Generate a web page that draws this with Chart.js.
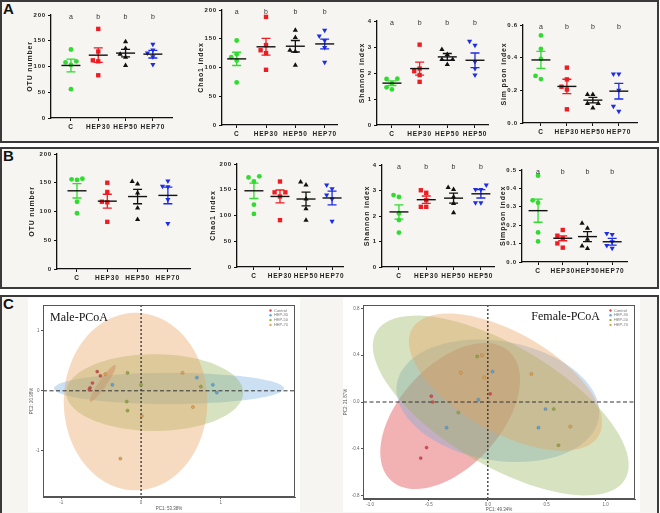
<!DOCTYPE html>
<html>
<head>
<meta charset="utf-8">
<script src="https://cdn.jsdelivr.net/npm/chart.js@4.4.1/dist/chart.umd.min.js"></script>
<style>
  html, body { margin: 0; padding: 0; background: #fff; }
  body { width: 660px; height: 513px; position: relative; overflow: hidden; font-family: 'Liberation Sans', Arial, sans-serif; }
  .panel { position: absolute; left: 0; width: 659px; background: #f6f5f1; border: 2px solid #3a3a3a; box-sizing: border-box; }
  .tag { position: absolute; left: 3px; font: bold 15px 'Liberation Sans', Arial, sans-serif; color: #111; }
  .white { position: absolute; background: #fff; }
</style>
</head>
<body>
<div class="panel" style="top:0;height:143px"></div>
<div class="panel" style="top:147px;height:142px"></div>
<div class="panel" style="top:295px;height:222px"></div>
<div class="tag" style="top:0px">A</div>
<div class="tag" style="top:147px">B</div>
<div class="tag" style="top:295px">C</div>
<div class="white" style="left:28px;top:298px;width:272px;height:214px"></div>
<div class="white" style="left:343px;top:298px;width:297px;height:214px"></div>

<script>
/* ─── data ──────────────────────────────── */

const groups        = ['C', 'HEP30', 'HEP50', 'HEP70'];
const shannonGroups = ['C', 'HEP30', 'HEP50', 'HEP50'];
const lettersAbbb   = ['a', 'b', 'b', 'b'];

/* panel A */
const otuA      = [[133, 108, 110, 103, 56], [173, 129, 112, 110, 83], [148, 135, 124, 118, 102], [132, 143, 126, 119, 104]];
const otuAMean  = [102, 122, 126, 124];
const otuASem   = [12.5, 14, 7.3, 7.5];

const chaoA     = [[147, 118, 123, 112, 74], [188, 139, 130, 125, 96], [165, 152, 130, 128, 104], [155, 165, 147, 135, 109]];
const chaoAMean = [115, 136, 137, 141];
const chaoASem  = [11.5, 14.5, 10, 8.5];

const shannonA     = [[1.78, 1.77, 1.60, 1.37, 1.45], [3.09, 2.17, 2.07, 1.92, 1.66], [2.90, 2.71, 2.52, 2.52, 2.33], [3.22, 3.07, 2.43, 2.17, 1.92]];
const shannonAMean = [1.61, 2.17, 2.62, 2.49];
const shannonASem  = [0.09, 0.25, 0.13, 0.28];

const simpsonA     = [[0.536, 0.454, 0.392, 0.288, 0.269], [0.339, 0.267, 0.205, 0.222, 0.084], [0.175, 0.175, 0.119, 0.119, 0.092], [0.30, 0.30, 0.20, 0.103, 0.072]];
const simpsonAMean = [0.386, 0.224, 0.14, 0.195];
const simpsonASem  = [0.052, 0.044, 0.017, 0.048];

/* panel B */
const otuB      = [[157, 155, 156, 117, 97], [150, 134, 117, 116, 82], [152, 148, 132, 106, 86], [153, 144, 143, 121, 79]];
const otuBMean  = [136, 118, 126, 128];
const otuBSem   = [12.5, 12, 12.5, 14.5];

const chaoB     = [[176, 174, 166, 121, 103], [166, 145, 145, 137, 91], [165, 159, 132, 113, 91], [159, 152, 140, 132, 89]];
const chaoBMean = [148, 137, 132, 134];
const chaoBSem  = [15, 12.5, 13.5, 13.5];

const shannonB     = [[2.75, 2.82, 2.10, 1.84, 1.35], [3.01, 2.91, 2.62, 2.36, 2.36], [3.12, 3.04, 2.75, 2.49, 2.13], [3.22, 3.04, 3.04, 2.52, 2.52]];
const shannonBMean = [2.16, 2.64, 2.70, 2.87];
const shannonBSem  = [0.28, 0.145, 0.195, 0.165];

const simpsonB     = [[0.469, 0.335, 0.322, 0.161, 0.112], [0.174, 0.143, 0.129, 0.101, 0.078], [0.21, 0.183, 0.123, 0.087, 0.074], [0.155, 0.15, 0.11, 0.09, 0.075]];
const simpsonBMean = [0.279, 0.129, 0.138, 0.11];
const simpsonBSem  = [0.063, 0.0135, 0.0275, 0.0185];

/* panel C : PCoA coordinates */
const pcoaLabels = ['Control', 'HEP-30', 'HEP-50', 'HEP-70'];

const maleControl = [[-0.55, 0.32], [-0.51, 0.25], [-0.61, 0.13], [-0.64, 0.05], [-0.65, 0.02]];
const maleHep30   = [[-0.36, 0.10], [0.70, 0.22], [0.90, 0.10], [0.95, -0.03]];
const maleHep50   = [[-0.17, 0.30], [0.0, 0.10], [0.75, 0.07], [-0.18, -0.18], [-0.17, -0.33]];
const maleHep70   = [[-0.45, 0.28], [0.52, 0.30], [0.01, -0.42], [-0.26, -1.13], [0.65, -0.27]];
/* [centre x, centre y, semi-axis a, semi-axis b, angle deg] */
const maleEllipses = [[-0.48, 0.125, 0.342, 0.053, 63], [0.35, 0.04, 1.44, 0.26, 0], [0.17, -0.03, 1.11, 0.64, 0], [-0.07, -0.18, 0.9, 1.48, 0]];

const femControl = [[-0.48, 0.05], [-0.47, 0.0], [-0.52, -0.39], [-0.57, -0.48], [0.02, 0.07]];
const femHep30   = [[-0.08, 0.02], [-0.35, -0.22], [0.04, 0.26], [0.49, -0.06], [0.43, -0.22]];
const femHep50   = [[-0.09, 0.39], [-0.25, -0.09], [0.56, -0.06], [0.60, -0.37]];
const femHep70   = [[-0.23, 0.25], [-0.05, 0.40], [-0.03, 0.21], [0.37, 0.24], [0.70, -0.21]];
const femEllipses = [[-0.32, -0.12, 0.746, 0.432, 48], [0.085, 0.01, 0.87, 0.51, -10], [0.11, -0.03, 1.23, 0.51, -31], [0.15, 0.17, 0.915, 0.425, -30]];

/* ─── styles ──────────────────────────────── */

const FONT = "'Liberation Sans', Arial, sans-serif";
Chart.defaults.font.family = FONT;
Chart.defaults.animation = false;

const dotColors  = ['#2fdc2f', '#ee1d23', '#111111', '#1d2de6'];
const dotMarkers = ['circle', 'rect', 'triangle', 'triangle'];
const dotRadius  = [2.4, 3.1, 3, 3];
const pcoaColors = ['#e2474c', '#5fa5d6', '#93ab3f', '#e8a24a'];
const ellipseFill = ['rgba(226,82,86,0.45)', 'rgba(110,168,222,0.36)', 'rgba(150,180,90,0.38)', 'rgba(232,160,92,0.38)'];

/* ── canvas helper ── */
function makeCanvas(l, t, w, h) {
  const c = document.createElement('canvas');
  c.width = w; c.height = h;
  c.style.cssText = `position:absolute;left:${l}px;top:${t}px;width:${w}px;height:${h}px;`;
  document.body.appendChild(c);
  return c;
}

/* ── spread points sideways like a scatter dot plot ── */
function swarm(vals, pxPerY, pxPerX) {
  const d = 5.4, placed = [], off = new Array(vals.length).fill(0);
  const order = vals.map((v, i) => i).sort((a, b) => vals[a] - vals[b]);
  order.forEach(i => {
    const y = vals[i] * pxPerY;
    for (const k of [0, -1, 1, -2, 2, -3, 3]) {
      const x = k * d;
      if (placed.every(p => Math.hypot(p.x - x, p.y - y) >= d - 0.01)) {
        placed.push({ x, y });
        off[i] = x / pxPerX;
        break;
      }
    }
  });
  return off;
}

/* ── plugins ── */
const spacingPlugin = {
  id: 'spacing',
  beforeDraw(chart) { chart.ctx.letterSpacing = '0.8px'; }
};

const meanSemPlugin = {
  id: 'meanSem',
  afterDatasetsDraw(chart, args, opts) {
    const { ctx, scales: { x, y } } = chart;
    ctx.save();
    opts.mean.forEach((m, g) => {
      const cx = x.getPixelForValue(g + 1);
      const ym = y.getPixelForValue(m);
      const yt = y.getPixelForValue(m + opts.sem[g]);
      const yb = y.getPixelForValue(m - opts.sem[g]);
      ctx.strokeStyle = dotColors[g];
      ctx.lineWidth = 1.3;
      ctx.beginPath();
      ctx.moveTo(cx, yt); ctx.lineTo(cx, yb);
      ctx.moveTo(cx - 4.5, yt); ctx.lineTo(cx + 4.5, yt);
      ctx.moveTo(cx - 4.5, yb); ctx.lineTo(cx + 4.5, yb);
      ctx.stroke();
      ctx.strokeStyle = '#111';
      ctx.lineWidth = 1.4;
      ctx.beginPath();
      ctx.moveTo(cx - 9.5, ym); ctx.lineTo(cx + 9.5, ym);
      ctx.stroke();
    });
    ctx.restore();
  }
};

const lettersPlugin = {
  id: 'letters',
  afterDraw(chart, args, opts) {
    if (!opts.letters) return;
    const { ctx, scales: { x, y } } = chart;
    ctx.save();
    ctx.font = `7px ${FONT}`;
    ctx.fillStyle = '#333';
    ctx.textAlign = 'center';
    ctx.textBaseline = 'middle';
    ctx.letterSpacing = '0px';
    opts.letters.forEach((l, i) => ctx.fillText(l, x.getPixelForValue(i + 1), y.top + 2.5));
    ctx.restore();
  }
};

/* ── dot plot ── */
function dotPlot(cfg) {
  const left = cfg.axisX - 32, top = cfg.yTop - 12;
  const w = cfg.xEnd + 6 - left, h = cfg.yBottom + 16 - top;
  const canvas = makeCanvas(left, top, w, h);
  const pxPerX = (cfg.xEnd - cfg.axisX) / (cfg.xMax - cfg.xMin);
  const pxPerY = (cfg.yBottom - cfg.yTop) / cfg.yMax;

  const datasets = cfg.values.map((vals, g) => {
    const dx = swarm(vals, pxPerY, pxPerX);
    return {
      label: cfg.groups[g],
      data: vals.map((v, i) => ({ x: g + 1 + dx[i], y: v })),
      pointStyle: dotMarkers[g],
      rotation: g === 3 ? 180 : 0,
      pointRadius: dotRadius[g],
      backgroundColor: dotColors[g],
      borderColor: dotColors[g],
      borderWidth: 0
    };
  });

  new Chart(canvas, {
    type: 'scatter',
    data: { datasets },
    options: {
      responsive: false,
      layout: { padding: { top: 12, right: 6, left: 0, bottom: 0 } },
      plugins: {
        legend: { display: false },
        tooltip: { enabled: false },
        meanSem: { mean: cfg.mean, sem: cfg.sem },
        letters: { letters: cfg.letters }
      },
      scales: {
        x: {
          type: 'linear',
          min: cfg.xMin, max: cfg.xMax,
          afterBuildTicks: s => { s.ticks = cfg.groups.map((g, i) => ({ value: i + 1 })); },
          ticks: {
            callback: (v, i) => cfg.groups[i],
            autoSkip: false, maxRotation: 0,
            color: '#222', padding: 2.5,
            font: { size: 6.5, weight: 'bold' }
          },
          grid: { drawOnChartArea: false, tickLength: 3, color: '#111', lineWidth: 1 },
          border: { color: '#111', width: 1.3 },
          afterFit: s => { s.height = 16; }
        },
        y: {
          min: 0, max: cfg.yMax,
          ticks: {
            stepSize: cfg.yStep,
            color: '#222', padding: 2,
            font: { size: 6, weight: 'bold' },
            callback: v => Number(v).toFixed(cfg.dec)
          },
          grid: { drawOnChartArea: false, tickLength: 3, color: '#111', lineWidth: 1 },
          border: { color: '#111', width: 1.3 },
          title: {
            display: true, text: cfg.title, color: '#222',
            font: { size: 7, weight: 'bold' },
            padding: { top: Math.max(0, 32 - cfg.titleGap - 4.2), bottom: 0 }
          },
          afterFit: s => { s.width = 32; }
        }
      }
    },
    plugins: [spacingPlugin, meanSemPlugin, lettersPlugin]
  });
}

/* ── PCoA plugins ── */
const ellipsePlugin = {
  id: 'ellipses',
  beforeDatasetsDraw(chart, args, opts) {
    const { ctx, chartArea: a, scales: { x, y } } = chart;
    ctx.save();
    ctx.beginPath(); ctx.rect(a.left, a.top, a.right - a.left, a.bottom - a.top); ctx.clip();
    opts.ellipses.forEach(([cx, cy, ea, eb, deg], g) => {
      const th = deg * Math.PI / 180;
      ctx.beginPath();
      for (let i = 0; i <= 90; i++) {
        const t = i / 90 * 2 * Math.PI;
        const ex = cx + ea * Math.cos(t) * Math.cos(th) - eb * Math.sin(t) * Math.sin(th);
        const ey = cy + ea * Math.cos(t) * Math.sin(th) + eb * Math.sin(t) * Math.cos(th);
        const px = x.getPixelForValue(ex), py = y.getPixelForValue(ey);
        i ? ctx.lineTo(px, py) : ctx.moveTo(px, py);
      }
      ctx.closePath();
      ctx.fillStyle = ellipseFill[g];
      ctx.fill();
    });
    /* zero lines */
    const x0 = x.getPixelForValue(0), y0 = y.getPixelForValue(0);
    ctx.strokeStyle = '#333';
    ctx.lineWidth = 1.3; ctx.setLineDash([2, 2]);
    ctx.beginPath(); ctx.moveTo(x0, a.top); ctx.lineTo(x0, a.bottom); ctx.stroke();
    ctx.lineWidth = 1; ctx.setLineDash([4, 2.5]);
    ctx.beginPath(); ctx.moveTo(a.left, y0); ctx.lineTo(a.right, y0); ctx.stroke();
    ctx.restore();
  },
  afterDraw(chart, args, opts) {
    const { ctx, chartArea: a } = chart;
    ctx.save();
    ctx.strokeStyle = '#555'; ctx.lineWidth = 1;
    ctx.strokeRect(a.left + 0.5, a.top + 0.5, a.right - a.left - 1, a.bottom - a.top - 1);
    /* title */
    ctx.font = `12px 'Liberation Serif', 'Times New Roman', serif`;
    ctx.fillStyle = '#111';
    ctx.textBaseline = 'middle';
    if (opts.titleAlign === 'left') { ctx.textAlign = 'left'; ctx.fillText(opts.title, a.left + 7, a.top + 13); }
    else { ctx.textAlign = 'right'; ctx.fillText(opts.title, a.right - 35, a.top + 12); }
    /* legend */
    ctx.font = `4px ${FONT}`;
    ctx.textAlign = 'left';
    chart.data.datasets.forEach((ds, i) => {
      const ly = a.top + 5.5 + i * 4.8;
      ctx.fillStyle = ds.backgroundColor;
      ctx.beginPath(); ctx.arc(a.right - 24.5, ly, 1.2, 0, Math.PI * 2); ctx.fill();
      ctx.fillStyle = '#777';
      ctx.fillText(ds.label, a.right - 21, ly);
    });
    ctx.restore();
  }
};

function pcoa(cfg) {
  const canvas = makeCanvas(cfg.left, cfg.top, cfg.w, cfg.h);
  const datasets = cfg.sets.map((pts, g) => ({
    label: pcoaLabels[g],
    data: pts.map(([x, y]) => ({ x, y })),
    pointRadius: 1.6,
    backgroundColor: pcoaColors[g],
    borderColor: 'rgba(60,60,60,0.5)',
    borderWidth: 0.4
  }));
  const axisFont = { size: 4.5 };
  new Chart(canvas, {
    type: 'scatter',
    data: { datasets },
    options: {
      responsive: false,
      layout: { padding: { top: cfg.padTop, right: cfg.padRight, left: 0, bottom: 0 } },
      plugins: {
        legend: { display: false },
        tooltip: { enabled: false },
        ellipses: { ellipses: cfg.ellipses, title: cfg.title, titleAlign: cfg.titleAlign }
      },
      scales: {
        x: {
          min: cfg.xMin, max: cfg.xMax,
          ticks: { stepSize: cfg.xStep, includeBounds: false, color: '#666', padding: 1.5, font: axisFont, callback: v => Number(v).toFixed(cfg.dec) },
          grid: { drawOnChartArea: false, tickLength: 2, color: '#555' },
          border: { color: '#555', width: 1 },
          title: { display: true, text: cfg.xTitle, color: '#555', font: axisFont, padding: { top: 0, bottom: 0 } },
          afterFit: s => { s.height = cfg.xHeight; }
        },
        y: {
          min: cfg.yMin, max: cfg.yMax,
          ticks: { stepSize: cfg.yStep, includeBounds: false, color: '#666', padding: 1.5, font: axisFont, callback: v => Number(v).toFixed(cfg.dec) },
          grid: { drawOnChartArea: false, tickLength: 2, color: '#555' },
          border: { color: '#555', width: 1 },
          title: { display: true, text: cfg.yTitle, color: '#555', font: axisFont, padding: { top: cfg.yTitlePad, bottom: 0 } },
          afterFit: s => { s.width = cfg.yWidth; }
        }
      }
    },
    plugins: [ellipsePlugin]
  });
}

/* ── Init ── */
dotPlot({ values: otuA, mean: otuAMean, sem: otuASem, groups, letters: lettersAbbb, title: 'OTU number',
  yMax: 200, yStep: 50, dec: 0, axisX: 51, xEnd: 172, yTop: 15, yBottom: 118, xMin: 0.27, xMax: 4.7, titleGap: 21 });
dotPlot({ values: chaoA, mean: chaoAMean, sem: chaoASem, groups, letters: lettersAbbb, title: 'Chao1 index',
  yMax: 200, yStep: 50, dec: 0, axisX: 222, xEnd: 337, yTop: 10, yBottom: 125, xMin: 0.5, xMax: 4.42, titleGap: 21 });
dotPlot({ values: shannonA, mean: shannonAMean, sem: shannonASem, groups: shannonGroups, letters: lettersAbbb, title: 'Shannon index',
  yMax: 4, yStep: 1, dec: 0, axisX: 377, xEnd: 488, yTop: 21, yBottom: 125, xMin: 0.46, xMax: 4.47, titleGap: 15 });
dotPlot({ values: simpsonA, mean: simpsonAMean, sem: simpsonASem, groups, letters: lettersAbbb, title: 'Sim pson index',
  yMax: 0.6, yStep: 0.2, dec: 1, axisX: 523, xEnd: 637, yTop: 25, yBottom: 123, xMin: 0.31, xMax: 4.7, titleGap: 19 });

dotPlot({ values: otuB, mean: otuBMean, sem: otuBSem, groups, letters: null, title: 'OTU number',
  yMax: 200, yStep: 50, dec: 0, axisX: 57, xEnd: 190, yTop: 154, yBottom: 269, xMin: 0.34, xMax: 4.73, titleGap: 25 });
dotPlot({ values: chaoB, mean: chaoBMean, sem: chaoBSem, groups, letters: null, title: 'Chao1 index',
  yMax: 200, yStep: 50, dec: 0, axisX: 237, xEnd: 343, yTop: 164, yBottom: 267, xMin: 0.35, xMax: 4.42, titleGap: 24 });
dotPlot({ values: shannonB, mean: shannonBMean, sem: shannonBSem, groups: shannonGroups, letters: lettersAbbb, title: 'Shannon index',
  yMax: 4, yStep: 1, dec: 0, axisX: 382, xEnd: 494, yTop: 165, yBottom: 267, xMin: 0.38, xMax: 4.48, titleGap: 15 });
dotPlot({ values: simpsonB, mean: simpsonBMean, sem: simpsonBSem, groups, letters: lettersAbbb, title: 'Simpson index',
  yMax: 0.5, yStep: 0.1, dec: 1, axisX: 522, xEnd: 627, yTop: 170, yBottom: 262, xMin: 0.35, xMax: 4.6, titleGap: 19 });

pcoa({ sets: [maleControl, maleHep30, maleHep50, maleHep70], ellipses: maleEllipses, title: 'Male-PCoA', titleAlign: 'left',
  left: 28, top: 298, w: 272, h: 213, padTop: 7, padRight: 5, xHeight: 14, yWidth: 15, yTitlePad: 1.3,
  xMin: -1.23, xMax: 1.93, xStep: 1, yMin: -1.77, yMax: 1.43, yStep: 1, dec: 0,
  xTitle: 'PC1: 53.38%', yTitle: 'PC2: 20.98%' });
pcoa({ sets: [femControl, femHep30, femHep50, femHep70], ellipses: femEllipses, title: 'Female-PCoA', titleAlign: 'right',
  left: 343, top: 298, w: 297, h: 214, padTop: 7, padRight: 5, xHeight: 13, yWidth: 20, yTitlePad: 0,
  xMin: -1.06, xMax: 1.25, xStep: 0.5, yMin: -0.83, yMax: 0.83, yStep: 0.4, dec: 1,
  xTitle: 'PC1: 49.34%', yTitle: 'PC2: 21.87%' });
</script>
</body>
</html>
